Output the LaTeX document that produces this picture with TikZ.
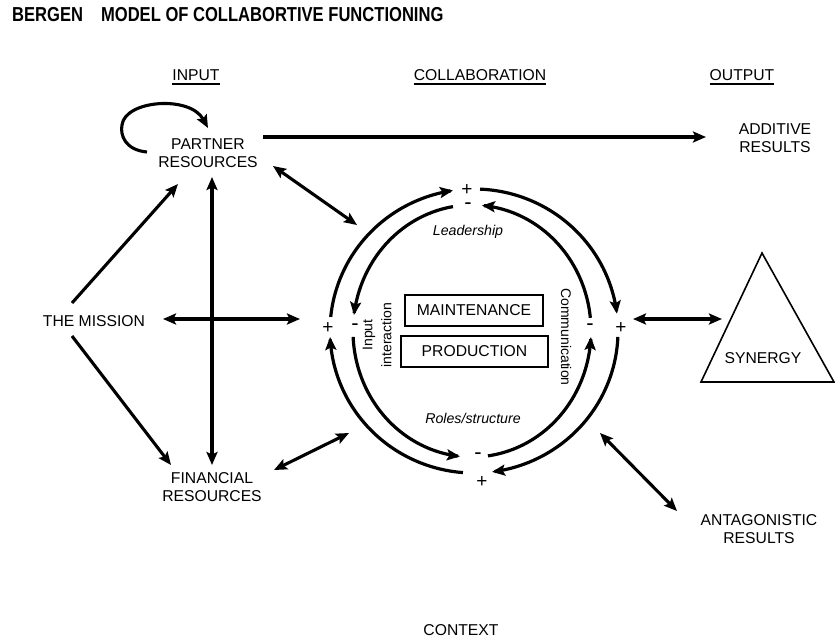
\documentclass[tikz,border=0pt]{standalone}
\usepackage{fontspec}
\setmainfont{Liberation Sans}
\usetikzlibrary{arrows.meta}
\begin{document}
\begin{tikzpicture}[x=1pt,y=-1pt,
  lbl/.style={font=\fontsize{15.7}{17.5}\selectfont, align=center, inner sep=0pt},
  ital/.style={font=\fontsize{14.2}{16}\selectfont\itshape, inner sep=0pt},
  vlbl/.style={font=\fontsize{14}{19}\selectfont, align=center, inner sep=0pt},
  sign/.style={font=\fontsize{19}{19}\selectfont, inner sep=0pt},
  minus/.style={font=\fontsize{22}{22}\selectfont, inner sep=0pt},
  box/.style={draw, line width=1.6pt, lbl, minimum height=31pt},
  tip/.tip={Stealth[length=13pt,width=11pt,inset=2.5pt]},
  arr/.style={line width=3.1pt, -tip},
  dbl/.style={line width=3.1pt, tip-tip},
  ring/.style={line width=3.2pt, -tip},
  uline/.style={line width=1.8pt}]
\useasboundingbox[fill=white] (0,0) rectangle (835,640);

% heading and column titles
\node[anchor=west, inner sep=0pt, font=\bfseries\fontsize{20.2}{22}\selectfont] (title) at (12,15)
  {\scalebox{0.82}[1]{BERGEN\hspace{22pt}MODEL OF COLLABORTIVE FUNCTIONING}};
\node[lbl] (hin) at (196,75) {INPUT};
\node[lbl] (hcol) at (480,75) {COLLABORATION};
\node[lbl] (hout) at (742,75) {OUTPUT};
\foreach \h in {hin,hcol,hout}
  \draw[uline] ([yshift=-3.5pt]\h.south west) -- ([yshift=-3.5pt]\h.south east);

% input side
\node[lbl] (partner) at (208,153) {PARTNER\\RESOURCES};
\node[lbl] (mission) at (94,321) {THE MISSION};
\node[lbl] (financial) at (212,487) {FINANCIAL\\RESOURCES};

% output side
\node[lbl] (additive) at (775,138) {ADDITIVE\\RESULTS};
\node[lbl] (synergy) at (763,358) {SYNERGY};
\node[lbl] (antag) at (759,529) {ANTAGONISTIC\\RESULTS};
\node[lbl] (context) at (461,630) {CONTEXT};

% synergy triangle
\coordinate (triTop) at (762,253);
\coordinate (triL) at (701,382);
\coordinate (triR) at (834,382);
\draw[line width=1.6pt, line join=miter] (triTop) -- (triL) -- (triR) -- cycle;

% collaboration core
\node[box, minimum width=138pt] (maint) at (474,310.5) {MAINTENANCE};
\node[box, minimum width=147pt] (prod) at (474.5,351.5) {PRODUCTION};
\node[ital] (lead) at (468,232) {Leadership};
\node[ital] (roles) at (473,418) {Roles/structure};
\node[vlbl, rotate=90] (inter) at (377,335) {Input\\interaction};
\node[vlbl, rotate=-90] (comm) at (566,337) {Communication};

% outer ring (clockwise) and inner ring (counter-clockwise)
\def\ocx{474}\def\ocy{331}\def\orx{144}\def\ory{142}
\def\icx{472}\def\icy{331}\def\irx{119}\def\iry{126}
\foreach \a/\b in {185.7/261.6, 272.4/353, 2.4/82.8, 94.4/177.6}
  \draw[ring] plot[domain=\a:\b, samples=80] ({\ocx+\orx*cos(\x)},{\ocy+\ory*sin(\x)});
\foreach \a/\b in {260.8/187.3, 354/274.8, 82.3/2.7, 177.3/95.8}
  \draw[ring] plot[domain=\a:\b, samples=80] ({\icx+\irx*cos(\x)},{\icy+\iry*sin(\x)});

% loop signs
\node[sign] (pTop) at (467,190) {+};
\node[minus] (mTop) at (468,206) {-};
\node[sign] (pLeft) at (328,328) {+};
\node[minus] (mLeft) at (355,327) {-};
\node[minus] (mRight) at (590,327) {-};
\node[sign] (pRight) at (621,328) {+};
\node[minus] (mBot) at (478,456) {-};
\node[sign] (pBot) at (482,482) {+};

% connector end points
\coordinate (loopS) at (147,152);
\coordinate (loopE) at (208,128);
\coordinate (addS) at (263,137);
\coordinate (addE) at (706,137);
\coordinate (pcA) at (273,166);
\coordinate (pcB) at (357,225);
\coordinate (vTop) at (212,177);
\coordinate (vBot) at (212,465);
\coordinate (mxL) at (163,319);
\coordinate (mxR) at (300,319);
\coordinate (mpA) at (72,303);
\coordinate (mpB) at (178,184);
\coordinate (mfA) at (72,336);
\coordinate (mfB) at (171,465);
\coordinate (fcA) at (274,470);
\coordinate (fcB) at (349,433);
\coordinate (csA) at (633,319);
\coordinate (csB) at (722,319);
\coordinate (caA) at (600,433);
\coordinate (caB) at (677,511);

% connectors
\draw[arr] (loopS) .. controls (125,150) and (120,135) .. (122,125)
                   .. controls (125,100) and (190,95) .. (loopE);
\draw[arr] (addS) -- (addE);
\draw[dbl] (pcA) -- (pcB);
\draw[dbl] (vTop) -- (vBot);
\draw[dbl] (mxL) -- (mxR);
\draw[arr] (mpA) -- (mpB);
\draw[arr] (mfA) -- (mfB);
\draw[dbl] (fcA) -- (fcB);
\draw[dbl] (csA) -- (csB);
\draw[dbl] (caA) -- (caB);
\end{tikzpicture}
\end{document}
